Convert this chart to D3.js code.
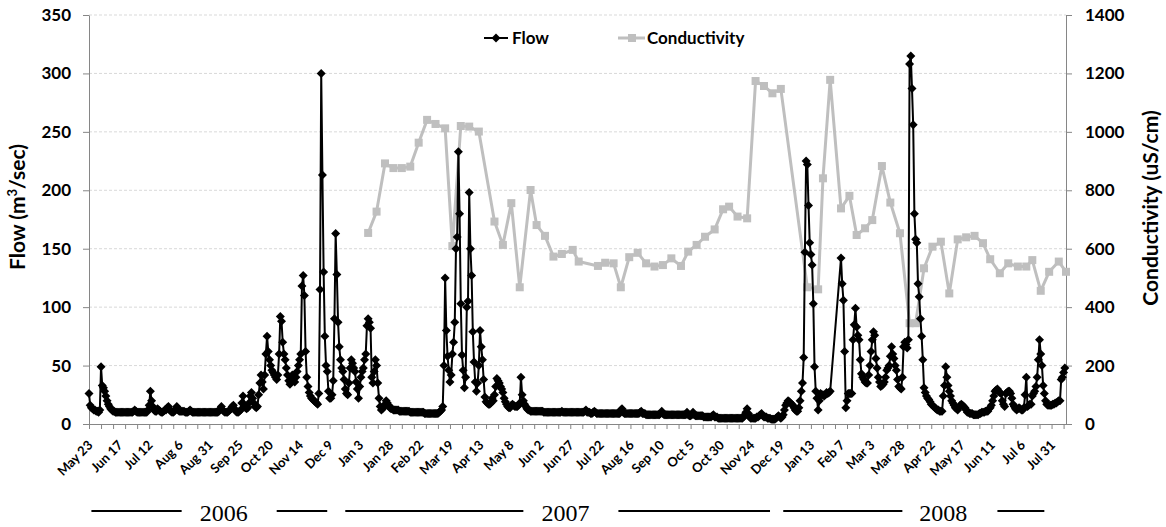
<!DOCTYPE html>
<head>
  <meta charset="utf-8">
  <style>
  body { margin: 0; background: #fff; }
  * { font-family: Lato, "Open Sans", sans-serif; }
  .axis text { font-weight: bold; fill: #000; }
  .axis path, .axis line { stroke: #868686; }
  .grid line { stroke: #d9d9d9; stroke-dasharray: 3,2; }
  .year { font-family: "Liberation Serif", serif; font-size: 24px; }
  </style>
  <title>Flow and Conductivity</title>
</head>
<body>
  <svg width="1166" height="527"></svg>
  <script src="https://d3js.org/d3.v7.min.js"></script>
  <script>
  // daily flow (m3/sec), one value per day from flowStart, null = no record
  var flowStart = "2006-05-23";
  var flowValues = [
    26,16,14,13,12,12,11,11,10,12,49,33,31,28,24,20,17,15,13,12,11,11,10,10,10,      // May 23
    10,10,10,10,10,10,10,10,10,10,10,10,11,12,11,10,10,10,10,10,10,10,10,10,12,      // Jun 17
    16,28,20,15,12,11,11,13,12,11,10,10,11,12,12,14,15,12,11,10,10,11,13,15,12,      // Jul 12
    11,11,11,11,11,10,10,10,11,12,11,10,10,10,10,10,10,10,10,10,10,10,10,10,10,      // Aug 6
    10,10,10,10,10,10,10,10,11,13,15,12,11,10,10,10,11,12,13,15,16,13,11,10,10,      // Aug 31
    11,12,18,24,17,14,13,14,18,24,27,22,18,15,14,15,25,35,42,36,30,42,60,75,62,      // Sep 25
    55,50,46,44,42,40,38,42,60,92,88,70,60,55,48,42,37,34,38,42,40,36,40,45,50,      // Oct 20
    55,60,118,127,110,62,40,32,27,24,22,21,20,19,18,17,26,115,300,213,130,75,50,45,28, // Nov 14
    22,22,25,37,90,163,128,87,66,55,48,45,38,30,26,25,35,48,55,52,48,45,36,30,22,    // Dec 9
    32,40,45,48,55,60,84,90,87,82,40,35,45,55,50,35,22,15,12,13,15,17,20,18,16,      // Jan 3
    14,13,13,12,12,12,12,12,11,11,11,11,11,11,11,11,11,10,10,10,10,10,10,10,10,      // Jan 28
    10,10,10,10,9,9,9,9,9,9,9,9,9,9,9,9,10,11,12,15,50,125,80,58,46,                 // Feb 22
    36,42,60,70,87,150,160,233,180,103,59,46,31,40,100,105,198,150,127,79,53,36,28,35,50, // Mar 19
    80,66,55,38,23,19,18,17,17,18,22,20,25,32,39,37,35,32,30,27,22,19,17,15,14,      // Apr 13
    14,16,17,16,15,15,15,16,18,40,25,20,17,15,13,12,12,11,11,11,11,11,11,11,11,      // May 8
    11,11,11,10,10,10,10,10,10,10,10,10,10,10,10,10,10,10,11,10,10,10,10,10,10,      // Jun 2
    10,10,10,10,10,10,10,10,10,10,10,10,11,12,10,10,10,9,9,10,11,10,9,9,9,           // Jun 27
    9,9,9,9,9,9,9,9,9,9,9,9,9,9,9,9,9,12,13,10,9,9,9,9,9,                            // Jul 22
    9,9,9,9,9,9,9,9,10,11,9,9,9,8,8,8,8,8,8,8,8,8,8,8,8,                             // Aug 16
    9,11,9,8,8,8,8,8,8,8,8,8,8,8,8,8,8,8,8,8,8,8,10,8,7,                             // Sep 10
    7,8,10,8,7,7,7,7,7,7,7,6,6,6,6,6,6,6,7,8,6,6,6,5,5,                              // Oct 5
    5,5,5,5,5,5,5,5,5,5,5,5,5,5,5,5,5,5,5,6,8,10,13,9,6,                             // Oct 30
    5,5,5,5,5,6,6,7,8,9,7,6,6,6,5,5,5,4,4,4,4,5,6,7,6,                               // Nov 24
    5,6,8,12,16,18,20,19,18,17,16,14,12,11,11,14,20,28,35,57,147,225,222,187,155,    // Dec 19
    145,136,103,49,28,22,12,20,26,25,25,24,25,27,26,27,28,null,null,null,null,null,null,null,null, // Jan 13
    142,120,106,62,14,20,26,26,26,26,72,85,99,83,76,72,55,43,40,38,36,35,35,42,50,   // Feb 7
    62,72,79,76,56,48,40,36,32,33,34,36,40,46,48,50,58,66,60,56,50,46,38,32,31,      // Mar 3
    30,40,66,70,68,65,72,308,315,287,256,180,158,155,120,109,90,75,55,31,27,24,22,21,19, // Mar 28
    17,16,15,14,13,12,12,11,11,11,24,33,49,40,33,28,24,20,18,16,14,13,12,14,16,      // Apr 22
    17,16,15,14,12,10,10,9,9,9,8,8,8,8,8,9,9,10,10,10,11,11,11,13,14,                // May 17
    16,20,24,28,29,30,28,27,26,20,17,15,26,27,28,28,26,22,17,15,13,12,13,14,13,      // Jun 11
    12,12,14,25,40,15,16,17,17,24,26,28,32,40,55,72,60,50,33,26,20,17,16,16,16,      // Jul 6
    16,17,17,18,18,19,20,20,38,40,44,48                                               // Jul 31
  ];

  // conductivity samples (uS/cm)
  var condDates = [
    "2007-01-10","2007-01-17","2007-01-24","2007-01-31","2007-02-07","2007-02-14","2007-02-21","2007-02-28",
    "2007-03-07","2007-03-15","2007-03-21","2007-03-28","2007-04-04","2007-04-12","2007-04-25","2007-05-02",
    "2007-05-09","2007-05-16","2007-05-25","2007-05-30","2007-06-06","2007-06-13","2007-06-20","2007-06-29",
    "2007-07-04","2007-07-20","2007-07-26","2007-08-02","2007-08-08","2007-08-15","2007-08-22","2007-08-29",
    "2007-09-05","2007-09-12","2007-09-19","2007-09-27","2007-10-03","2007-10-10","2007-10-17","2007-10-25",
    "2007-11-01","2007-11-06","2007-11-13","2007-11-21","2007-11-28","2007-12-05","2007-12-12","2007-12-19",
    "2008-01-10","2008-01-19","2008-01-23","2008-01-29","2008-02-07","2008-02-14","2008-02-20","2008-02-27",
    "2008-03-04","2008-03-12","2008-03-19","2008-03-27","2008-04-04","2008-04-09","2008-04-16","2008-04-23",
    "2008-04-30","2008-05-07","2008-05-14","2008-05-21","2008-05-28","2008-06-04","2008-06-10","2008-06-18",
    "2008-06-25","2008-07-03","2008-07-10","2008-07-15","2008-07-22","2008-07-29","2008-08-06","2008-08-12"
  ];
  var condValues = [
    654,727,892,876,876,881,963,1041,
    1027,1012,609,1020,1018,1001,693,613,
    756,468,801,681,644,573,582,596,
    556,541,552,550,468,571,586,550,
    539,544,567,541,590,613,641,666,
    735,744,710,704,1174,1157,1132,1147,
    468,461,841,1178,738,781,647,670,
    698,883,758,653,345,345,533,607,
    624,447,632,639,644,619,564,516,
    550,539,539,561,456,521,556,521
  ];

  var xLabelDates = [
    "2006-05-23","2006-06-17","2006-07-12","2006-08-06","2006-08-31","2006-09-25","2006-10-20","2006-11-14",
    "2006-12-09","2007-01-03","2007-01-28","2007-02-22","2007-03-19","2007-04-13","2007-05-08","2007-06-02",
    "2007-06-27","2007-07-22","2007-08-16","2007-09-10","2007-10-05","2007-10-30","2007-11-24","2007-12-19",
    "2008-01-13","2008-02-07","2008-03-03","2008-03-28","2008-04-22","2008-05-17","2008-06-11","2008-07-06",
    "2008-07-31"
  ];
  var flowTicks = [0, 50, 100, 150, 200, 250, 300, 350];
  var condTicks = [0, 200, 400, 600, 800, 1000, 1200, 1400];

  var yearLabels = ["2006", "2007", "2008"];
  var yearLabelDates = ["2006-09-12", "2007-06-23", "2008-05-02"];
  var yearRules = [
    ["2006-05-25", "2006-08-08"], ["2006-10-26", "2006-12-07"],
    ["2006-12-22", "2007-05-19"], ["2007-08-06", "2007-12-10"],
    ["2007-12-21", "2008-03-29"], ["2008-06-16", "2008-07-25"]
  ];

  var parse = d3.timeParse("%Y-%m-%d");
  var svg = d3.select("svg"),
      margin = {top: 15, right: 100, bottom: 103, left: 89},
      width = +svg.attr("width") - margin.left - margin.right,
      height = +svg.attr("height") - margin.top - margin.bottom;

  var g = svg.append("g").attr("transform", "translate(" + margin.left + "," + margin.top + ")");

  var t0 = parse(flowStart);
  var flow = flowValues.map(function(v, i) { return {date: d3.timeDay.offset(t0, i), value: v}; })
      .filter(function(d) { return d.value != null; });
  var cond = condDates.map(function(s, i) { return {date: parse(s), value: condValues[i]}; });

  var x = d3.scaleTime().domain([t0, parse("2008-08-12")]).range([0, width]);
  var yFlow = d3.scaleLinear().domain([0, 350]).range([height, 0]);
  var yCond = d3.scaleLinear().domain([0, 1400]).range([height, 0]);

  // gridlines
  g.append("g").attr("class", "grid")
    .selectAll("line")
    .data(flowTicks.slice(1))
    .enter().append("line")
      .attr("x1", 0).attr("x2", width)
      .attr("y1", function(d) { return yFlow(d); })
      .attr("y2", function(d) { return yFlow(d); });

  // axes
  var left = g.append("g").attr("class", "axis")
      .call(d3.axisLeft(yFlow).tickValues(flowTicks).tickSize(6).tickSizeOuter(0).tickPadding(12));
  left.selectAll("text").style("font-size", "17px");

  var right = g.append("g").attr("class", "axis")
      .attr("transform", "translate(" + width + ",0)")
      .call(d3.axisRight(yCond).tickValues(condTicks).tickSize(6).tickSizeOuter(0).tickPadding(13)
            .tickFormat(d3.format("d")));
  right.selectAll("text").style("font-size", "17px");

  var minorDates = d3.range(0, 812, 10).map(function(k) { return d3.timeDay.offset(t0, k); });
  g.append("g").attr("class", "axis")
      .attr("transform", "translate(0," + height + ")")
      .call(d3.axisBottom(x).tickValues(minorDates).tickSize(5).tickSizeOuter(0).tickFormat(""));

  var xl = g.append("g").attr("class", "axis")
      .attr("transform", "translate(0," + height + ")")
      .call(d3.axisBottom(x).tickValues(xLabelDates.map(parse)).tickSize(0)
            .tickFormat(d3.timeFormat("%b %-d")));
  xl.select(".domain").remove();
  xl.selectAll("text")
      .style("font-size", "13px")
      .attr("text-anchor", "end")
      .attr("x", 0).attr("y", 0).attr("dy", 0)
      .attr("transform", "translate(4,22) rotate(-45)");

  // conductivity series
  var condLine = d3.line()
      .x(function(d) { return x(d.date); })
      .y(function(d) { return yCond(d.value); });
  g.append("path").datum(cond)
      .attr("fill", "none").attr("stroke", "#bfbfbf").attr("stroke-width", 3)
      .attr("stroke-linejoin", "round")
      .attr("d", condLine);
  g.append("g").selectAll("rect").data(cond).enter().append("rect")
      .attr("x", function(d) { return x(d.date) - 4; })
      .attr("y", function(d) { return yCond(d.value) - 4; })
      .attr("width", 8).attr("height", 8)
      .attr("fill", "#bfbfbf");

  // flow series
  var flowLine = d3.line()
      .x(function(d) { return x(d.date); })
      .y(function(d) { return yFlow(d.value); });
  g.append("path").datum(flow)
      .attr("fill", "none").attr("stroke", "#000").attr("stroke-width", 2)
      .attr("stroke-linejoin", "round")
      .attr("d", flowLine);
  var diamond = "M0,-4.5L4.5,0L0,4.5L-4.5,0Z";
  g.append("g").selectAll("path").data(flow).enter().append("path")
      .attr("d", diamond)
      .attr("transform", function(d) { return "translate(" + x(d.date) + "," + yFlow(d.value) + ")"; })
      .attr("fill", "#000");

  // axis titles
  var lt = svg.append("text")
      .attr("transform", "translate(25,207) rotate(-90)")
      .attr("text-anchor", "middle")
      .style("font-size", "21px").style("font-weight", "bold");
  lt.append("tspan").text("Flow (m");
  lt.append("tspan").attr("dy", "-8").style("font-size", "13px").text("3");
  lt.append("tspan").attr("dy", "8").text("/sec)");

  svg.append("text")
      .attr("transform", "translate(1158,208) rotate(-90)")
      .attr("text-anchor", "middle")
      .style("font-size", "21px").style("font-weight", "bold")
      .text("Conductivity (uS/cm)");

  // legend
  var legend = svg.append("g");
  legend.append("line").attr("x1", 484).attr("x2", 508).attr("y1", 38).attr("y2", 38)
      .attr("stroke", "#000").attr("stroke-width", 2);
  legend.append("path").attr("d", diamond).attr("transform", "translate(496,38)");
  legend.append("text").attr("x", 512).attr("y", 44).text("Flow")
      .style("font-size", "17px").style("font-weight", "bold");
  legend.append("line").attr("x1", 618).attr("x2", 645).attr("y1", 38).attr("y2", 38)
      .attr("stroke", "#bfbfbf").attr("stroke-width", 3);
  legend.append("rect").attr("x", 628).attr("y", 34).attr("width", 8).attr("height", 8).attr("fill", "#bfbfbf");
  legend.append("text").attr("x", 647).attr("y", 44).text("Conductivity")
      .style("font-size", "17px").style("font-weight", "bold");

  // year bands under the date axis
  var years = g.append("g").attr("transform", "translate(0," + (height + 87) + ")");
  years.selectAll("line").data(yearRules).enter().append("line")
      .attr("x1", function(d) { return x(parse(d[0])); })
      .attr("x2", function(d) { return x(parse(d[1])); })
      .attr("stroke", "#000").attr("stroke-width", 2);
  years.selectAll("text").data(yearLabels).enter().append("text")
      .attr("class", "year")
      .attr("x", function(d, i) { return x(parse(yearLabelDates[i])); })
      .attr("y", 10)
      .attr("text-anchor", "middle")
      .text(function(d) { return d; });
  </script>
</body>
